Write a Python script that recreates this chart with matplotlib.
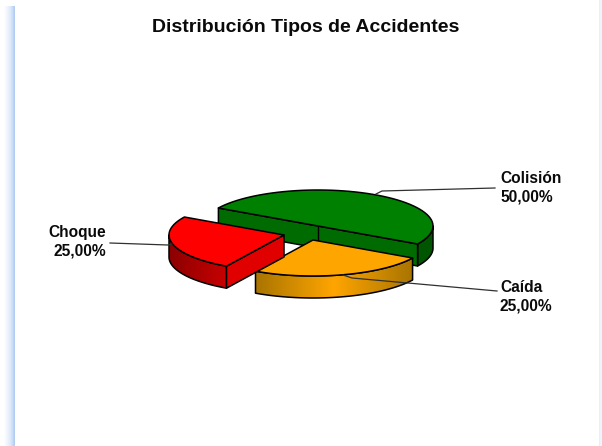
import numpy as np
import matplotlib
matplotlib.use('Agg')
import matplotlib.pyplot as plt
from matplotlib.patches import Polygon

plt.rcParams['font.family'] = ['Liberation Sans', 'DejaVu Sans']

title = 'Distribución Tipos de Accidentes'
categories = ['Colisión', 'Choque', 'Caída']
values = [50.0, 25.0, 25.0]

# colours: top, inner wall, outer wall dark, outer wall light
colors = {
    'Colisión': ('#008000', '#006b00', '#005500', '#005500'),
    'Choque': ('#ff0000', '#e00000', '#8c0000', '#c80000'),
    'Caída': ('#ffa500', '#ffa500', '#a87400', '#ffa500'),
}

# pie geometry in pixels
cx, cy = 318, 226
rx, ry = 115, 36
depth = 22
start = -30
explode = {'Colisión': (0, 0), 'Choque': (-34, 9), 'Caída': (-5, 14)}

fig = plt.figure(figsize=(6.02, 4.46), dpi=100)
ax = fig.add_axes([0, 0, 1, 1])
ax.axis('off')

# page shadow on the sides, one pixel per column
band = np.array([1.0, 0.98, 0.96, 0.93, 0.9, 0.87, 0.84, 0.8, 0.75, 0.7, 0.62, 0.55])
white = np.array([1.0, 1.0, 1.0])
blue = np.array([0.7, 0.8, 0.95])
left = white + (blue - white) * (1 - band)[:, None] / 0.45
ax.imshow(left[None, :, :], extent=[3, 15, 446, 6], aspect='auto', interpolation='nearest', zorder=0)
ax.imshow(np.array([[[1, 1, 1], [0.91, 0.94, 0.98], [0.93, 0.96, 0.99]]]), extent=[597, 602, 446, 0],
          aspect='auto', interpolation='nearest', zorder=0)
ax.set_xlim(0, 602)
ax.set_ylim(446, 0)


def rim(a0, a1, dx, dy, n=60):
    t = np.radians(np.linspace(a0, a1, n))
    return np.column_stack([cx + dx + rx * np.cos(t), cy + dy - ry * np.sin(t)])


def poly(pts, color, z, lw=1.1):
    p = Polygon(pts, closed=True, facecolor=color, edgecolor='black', linewidth=lw, zorder=z, joinstyle='round')
    ax.add_patch(p)
    return p


def wall(pts, color, z):
    return poly(np.vstack([pts, (pts + [0, depth])[::-1]]), color, z)


def outer_wall(a0, a1, dx, dy, dark, light, z, peak=False):
    # only the front part of the rim shows
    lo, hi = max(a0, 180), min(a1, 360)
    pts = rim(lo, hi, dx, dy)
    shape = np.vstack([pts, (pts + [0, depth])[::-1]])
    patch = poly(shape, 'none', z + 0.1)
    ramp = np.linspace(0, 1, 200)
    if peak:
        ramp = 1 - np.abs(ramp - 0.5) * 2
    c0, c1 = np.array(matplotlib.colors.to_rgb(dark)), np.array(matplotlib.colors.to_rgb(light))
    img = c0 + (c1 - c0) * ramp[:, None]
    im = ax.imshow(img[None, :, :], extent=[pts[:, 0].min(), pts[:, 0].max(), 446, 0], aspect='auto', zorder=z)
    im.set_clip_path(patch)
    ax.set_xlim(0, 602)
    ax.set_ylim(446, 0)


# slice angles come from the shares
angles = {}
a = start
for cat, val in zip(categories, values):
    angles[cat] = (a, a + val / sum(values) * 360)
    a = angles[cat][1]

# Colisión (back half)
a0, a1 = angles['Colisión']
top = rim(a0, a1, 0, 0)
front = rim(a0, 0, 0, 0)
wall(front, colors['Colisión'][2], 2)
wall(np.array([top[-1], top[0]]), colors['Colisión'][1], 2)
ax.plot([cx, cx], [cy, cy + depth], color='black', lw=1.0, zorder=2.5)
poly(top, colors['Colisión'][0], 3)

# Caída
a0, a1 = angles['Caída']
dx, dy = explode['Caída']
apex = np.array([cx + dx, cy + dy])
outer_wall(a0, a1, dx, dy, colors['Caída'][2], colors['Caída'][3], 4, peak=True)
poly(np.vstack([apex, rim(a0, a1, dx, dy)]), colors['Caída'][0], 5)

# Choque
a0, a1 = angles['Choque']
dx, dy = explode['Choque']
apex = np.array([cx + dx, cy + dy])
r = rim(a0, a1, dx, dy)
outer_wall(a0, a1, dx, dy, colors['Choque'][2], colors['Choque'][3], 6)
wall(np.array([r[-1], apex]), colors['Choque'][1], 6.5)
poly(np.vstack([apex, r]), colors['Choque'][0], 7)

# leaders
leaders = {
    'Colisión': ([376, 382, 495], [194, 191, 188]),
    'Choque': ([110, 168, 172], [243, 245, 244]),
    'Caída': ([343, 352, 497], [275, 278, 291]),
}
for cat in categories:
    ax.plot(*leaders[cat], color='#303030', lw=0.9, zorder=8)

ax.text(306, 27, title, ha='center', va='center', fontsize=14, fontweight='bold', color='#0a0a0a')


def pct(v):
    return f'{v:.2f}'.replace('.', ',') + '%'


label_pos = {'Colisión': (500, 178.5, 'left'), 'Caída': (500, 288, 'left'), 'Choque': (106, 233, 'right')}
for cat, val in zip(categories, values):
    x, y, ha = label_pos[cat]
    ax.text(x, y, cat, ha=ha, va='center', fontsize=11.2, fontweight='bold', color='#0a0a0a')
    ax.text(x, y + 18, pct(val), ha=ha, va='center', fontsize=11.2, fontweight='bold', color='#0a0a0a')

fig.savefig('out.png', dpi=100)
